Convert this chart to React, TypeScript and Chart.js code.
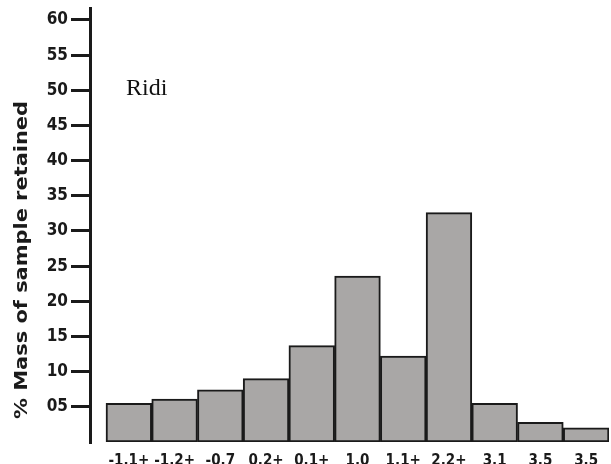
import React, { useEffect, useRef } from "react";
import { Chart, registerables } from "chart.js";

Chart.register(...registerables);

const categories = ["-1.1+", "-1.2+", "-0.7", "0.2+", "0.1+", "1.0", "1.1+", "2.2+", "3.1", "3.5", "3.5"];
const massRetained = [5.5, 6.1, 7.4, 9.0, 13.7, 23.6, 12.2, 32.6, 5.5, 2.8, 2.0];
const yTickValues = [5, 10, 15, 20, 25, 30, 35, 40, 45, 50, 55, 60];
const yTickLabels = ["05", "10", "15", "20", "25", "30", "35", "40", "45", "50", "55", "60"];
const yTitle = "% Mass of sample retained";
const panelLabel = "Ridi";

const INK = "#1a1a1a";
const BAR_FILL = "#a9a7a6";
const BLOCK_FONT = '"DejaVu Sans Condensed", "DejaVu Sans", sans-serif';

const annotationPlugin = {
  id: "annotations",
  afterDraw(chart: any) {
    const ctx = chart.ctx;
    ctx.save();
    // panel label
    ctx.fillStyle = "#111";
    ctx.font = '24px "Liberation Serif", "Times New Roman", serif';
    ctx.textAlign = "left";
    ctx.textBaseline = "alphabetic";
    ctx.fillText(panelLabel, 126, 95);
    // y axis title
    ctx.font = "bold 18px " + BLOCK_FONT;
    const w = ctx.measureText(yTitle).width;
    const target = 318;
    ctx.translate(27, 260);
    ctx.rotate(-Math.PI / 2);
    ctx.scale(target / w, 1);
    ctx.textAlign = "center";
    ctx.fillStyle = INK;
    ctx.fillText(yTitle, 0, 0);
    ctx.restore();
  },
};

export default function App() {
  const ref = useRef<HTMLCanvasElement | null>(null);

  useEffect(() => {
    if (!ref.current) return;
    const chart = new Chart(ref.current, {
      type: "bar",
      data: {
        datasets: [
          {
            data: categories.map((_, i) => ({ x: i, y: massRetained[i] })),
            backgroundColor: BAR_FILL,
            borderColor: INK,
            borderWidth: 2,
            borderSkipped: false,
            barPercentage: 1,
            categoryPercentage: 1,
          },
        ],
      },
      options: {
        animation: false,
        responsive: false,
        layout: { padding: { top: 8, right: 2, left: 0, bottom: 0 } },
        plugins: {
          legend: { display: false },
          tooltip: { enabled: false },
          title: { display: false },
        },
        scales: {
          x: {
            type: "linear",
            offset: false,
            min: -0.85,
            max: 10.5,
            grid: { display: false, offset: false },
            border: { display: false },
            afterBuildTicks: (scale: any) => {
              scale.ticks = categories.map((_, i) => ({ value: i }));
            },
            afterFit: (scale: any) => {
              scale.height = 22;
              scale.paddingLeft = 0;
              scale.paddingRight = 0;
            },
            ticks: {
              autoSkip: false,
              maxRotation: 0,
              minRotation: 0,
              padding: 2,
              color: INK,
              font: { family: BLOCK_FONT, size: 15, weight: "bold" },
              callback: (v: any) => categories[Math.round(Number(v))] ?? "",
            },
          },
          y: {
            type: "linear",
            min: 0,
            max: 61.7,
            afterBuildTicks: (scale: any) => {
              scale.ticks = yTickValues.map((v) => ({ value: v }));
            },
            afterFit: (scale: any) => {
              scale.width = 90;
              scale.paddingTop = 0;
              scale.paddingBottom = 0;
            },
            grid: {
              drawOnChartArea: false,
              drawTicks: true,
              tickLength: 19,
              lineWidth: 3,
              color: INK,
            },
            border: { display: true, width: 3, color: INK },
            ticks: {
              padding: 3,
              color: INK,
              font: { family: BLOCK_FONT, size: 17, weight: "bold" },
              callback: (v: any) => {
                const idx = yTickValues.indexOf(Number(v));
                return idx >= 0 ? yTickLabels[idx] : "";
              },
            },
          },
        },
      },
      plugins: [annotationPlugin],
    } as any);
    return () => chart.destroy();
  }, []);

  return (
    <div style={{ position: "fixed", left: 0, top: 0, width: 611, height: 464, background: "#fff" }}>
      <canvas ref={ref} width={611} height={464} style={{ display: "block" }} />
    </div>
  );
}
